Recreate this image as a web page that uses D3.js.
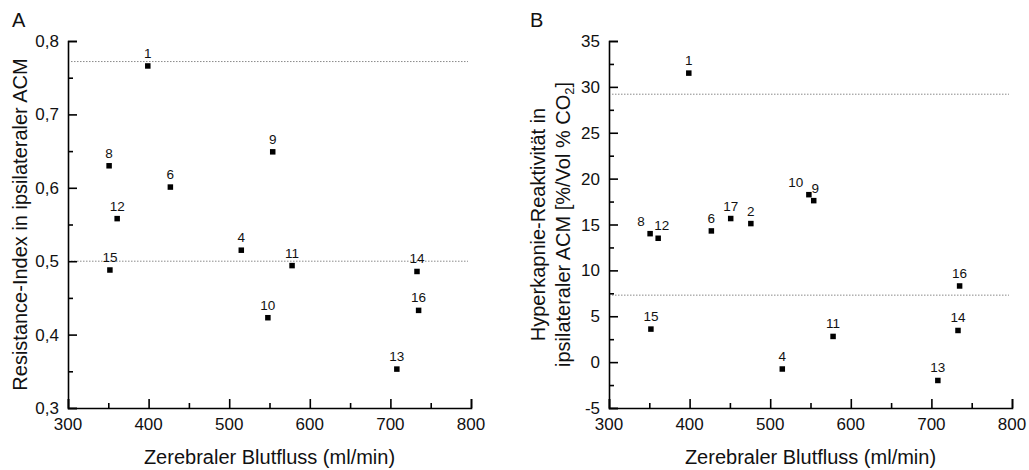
<!DOCTYPE html>
<html>
<head>
<meta charset="utf-8">
<script src="https://cdn.jsdelivr.net/npm/d3@7"></script>
<style>
  html, body { margin: 0; padding: 0; background: #fff; }
  svg { display: block; font-family: "Liberation Sans", Arial, sans-serif; }
</style>
</head>
<body>
<svg id="chart" width="1029" height="470"></svg>
<script>
// Panel A: resistance index vs. cerebral blood flow
const patientsA = [1, 4, 6, 8, 9, 10, 11, 12, 13, 14, 15, 16];
const flowA     = [399, 515, 427, 351, 554, 548, 578, 361, 708, 733, 352, 735];
const resistA   = [0.766, 0.515, 0.601, 0.630, 0.649, 0.423, 0.494, 0.558, 0.353, 0.486, 0.488, 0.433];
const refLinesA = [0.772, 0.500];
const yTicksA   = [0.3, 0.4, 0.5, 0.6, 0.7, 0.8];

// Panel B: hypercapnic reactivity vs. cerebral blood flow
const patientsB = [1, 2, 4, 6, 8, 9, 10, 11, 12, 13, 14, 15, 16, 17];
const flowB     = [399, 476, 515, 427, 351, 554, 548, 578, 361, 708, 733, 352, 735, 451];
const reactB    = [31.5, 15.1, -0.75, 14.3, 14.0, 17.6, 18.25, 2.8, 13.5, -2.0, 3.45, 3.6, 8.3, 15.65];
const refLinesB = [29.2, 7.3];
const yTicksB   = [-5, 0, 5, 10, 15, 20, 25, 30, 35];

const xTicks = [300, 400, 500, 600, 700, 800];

// label nudges where neighbouring points would collide
const labelShiftB = { 8: -9, 12: 3.5, 10: -13, 9: 1.5 };

const svg = d3.select("#chart");
const fmtComma = d3.format(".1f");

function drawPanel(opt) {
  const x = d3.scaleLinear().domain([300, 800]).range([opt.left, opt.left + 403]);
  const y = d3.scaleLinear().domain(opt.yDomain).range([408, 41]);
  const g = svg.append("g");

  // reference lines
  g.selectAll("line.ref").data(opt.refs).join("line")
    .attr("class", "ref")
    .attr("x1", x(300) + 3).attr("x2", x(800) - 3)
    .attr("y1", d => y(d)).attr("y2", d => y(d))
    .attr("stroke", "#8a8a8a").attr("stroke-width", 1)
    .attr("stroke-dasharray", "1.5,1.5");

  // x axis, ticks pointing into the plot
  const xMinor = d3.range(350, 800, 100);
  const xAxis = g.append("g").attr("transform", `translate(0,${y.range()[0]})`);
  xAxis.call(d3.axisTop(x).tickValues(xTicks).tickSize(9).tickFormat(""));
  xAxis.append("g").call(d3.axisTop(x).tickValues(xMinor).tickSize(5).tickFormat(""));
  xAxis.selectAll("path.domain").filter((d, i, n) => n[i].parentNode !== xAxis.node()).remove();
  g.selectAll(".xlab").data(xTicks).join("text")
    .attr("x", d => x(d)).attr("y", 430)
    .attr("text-anchor", "middle").attr("font-size", 17).attr("fill", "#111")
    .text(d => d);

  // y axis, ticks pointing into the plot
  const yAxis = g.append("g").attr("transform", `translate(${opt.left},0)`);
  yAxis.call(d3.axisRight(y).tickValues(opt.yTicks).tickSize(9).tickFormat(""));
  yAxis.append("g").call(d3.axisRight(y).tickValues(opt.yMinor).tickSize(5).tickFormat(""));
  yAxis.selectAll("path.domain").filter((d, i, n) => n[i].parentNode !== yAxis.node()).remove();
  g.selectAll(".ylab").data(opt.yTicks).join("text")
    .attr("x", opt.left - 9).attr("y", d => y(d) + 6)
    .attr("text-anchor", "end").attr("font-size", 17).attr("fill", "#111")
    .text(opt.yFormat);

  g.selectAll("path.domain").attr("stroke", "#000").attr("stroke-width", 1.6);
  g.selectAll(".tick line").attr("stroke", "#000").attr("stroke-width", 1.6);

  // points
  const pts = opt.ids.map((id, i) => ({ id, fx: opt.xs[i], fy: opt.ys[i] }));
  g.selectAll("rect.pt").data(pts).join("rect")
    .attr("class", "pt")
    .attr("x", d => x(d.fx) - 2.75).attr("y", d => y(d.fy) - 2.75)
    .attr("width", 5.5).attr("height", 5.5).attr("fill", "#000");
  g.selectAll("text.pl").data(pts).join("text")
    .attr("class", "pl")
    .attr("x", d => x(d.fx) + (opt.shift[d.id] || 0)).attr("y", d => y(d.fy) - 8)
    .attr("text-anchor", "middle").attr("font-size", 13.5).attr("fill", "#111")
    .text(d => d.id);

  // x axis title
  g.append("text")
    .attr("x", x(550)).attr("y", 464)
    .attr("text-anchor", "middle").attr("font-size", 20).attr("fill", "#111")
    .text("Zerebraler Blutfluss (ml/min)");

  // panel letter
  g.append("text")
    .attr("x", opt.letterX).attr("y", 27)
    .attr("font-size", 20).attr("fill", "#111")
    .text(opt.letter);

  return { x, y, g };
}

const pA = drawPanel({
  left: 68, yDomain: [0.3, 0.8], yTicks: yTicksA,
  yMinor: [0.35, 0.45, 0.55, 0.65, 0.75],
  yFormat: d => fmtComma(d).replace(".", ","),
  ids: patientsA, xs: flowA, ys: resistA, refs: refLinesA,
  shift: {}, letter: "A", letterX: 12
});
pA.g.append("text")
  .attr("transform", `translate(27,${(41 + 408) / 2}) rotate(-90)`)
  .attr("text-anchor", "middle").attr("font-size", 20).attr("fill", "#111")
  .text("Resistance-Index in ipsilateraler ACM");

const pB = drawPanel({
  left: 609, yDomain: [-5, 35], yTicks: yTicksB,
  yMinor: d3.range(-2.5, 35, 5),
  yFormat: d => d,
  ids: patientsB, xs: flowB, ys: reactB, refs: refLinesB,
  shift: labelShiftB, letter: "B", letterX: 530
});
const titleB = pB.g.append("text")
  .attr("transform", `translate(545,${(41 + 408) / 2}) rotate(-90)`)
  .attr("text-anchor", "middle").attr("font-size", 20).attr("fill", "#111");
titleB.append("tspan").attr("x", 0).attr("dy", 0).text("Hyperkapnie-Reaktivität in");
const line2 = titleB.append("tspan").attr("x", 0).attr("dy", 25);
line2.append("tspan").text("ipsilateraler ACM [%/Vol % CO");
line2.append("tspan").attr("font-size", 13).attr("dy", 4).text("2");
line2.append("tspan").attr("dy", -4).text("]");
</script>
</body>
</html>
